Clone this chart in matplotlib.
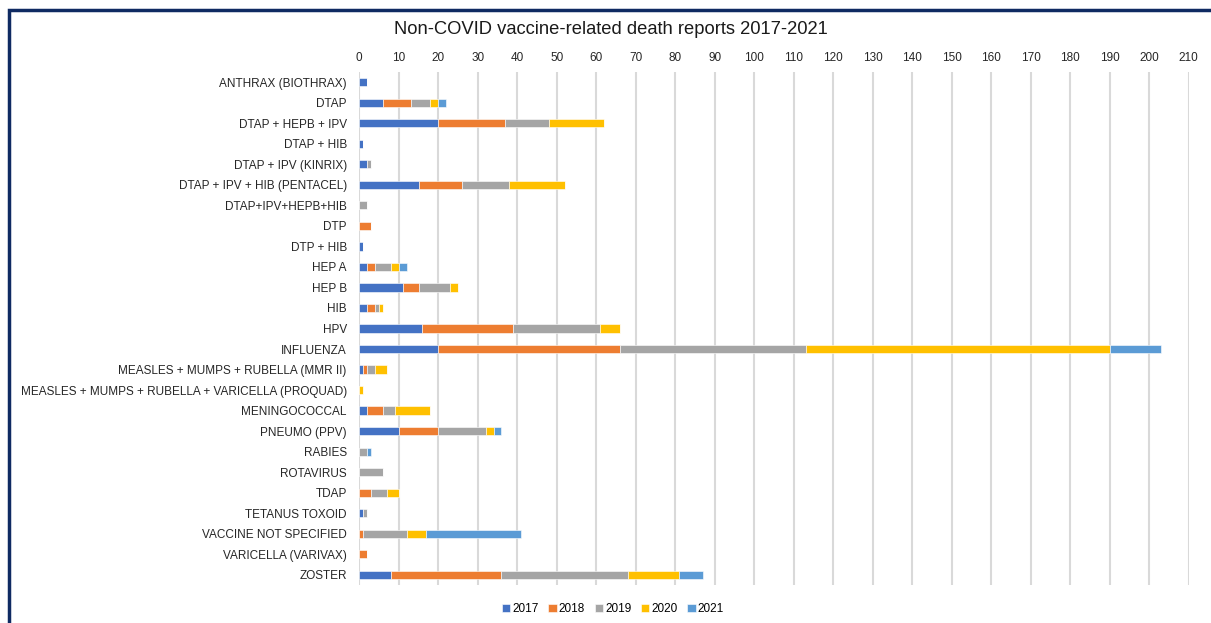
import matplotlib
matplotlib.use("Agg")
import matplotlib.pyplot as plt
from matplotlib.patches import Rectangle
import numpy as np

plt.rcParams['font.family'] = ['Liberation Sans', 'DejaVu Sans']

categories = [
    "ANTHRAX (BIOTHRAX)", "DTAP", "DTAP + HEPB + IPV", "DTAP + HIB",
    "DTAP + IPV (KINRIX)", "DTAP + IPV + HIB (PENTACEL)", "DTAP+IPV+HEPB+HIB",
    "DTP", "DTP + HIB", "HEP A", "HEP B", "HIB", "HPV", "INFLUENZA",
    "MEASLES + MUMPS + RUBELLA (MMR II)",
    "MEASLES + MUMPS + RUBELLA + VARICELLA (PROQUAD)",
    "MENINGOCOCCAL", "PNEUMO (PPV)", "RABIES", "ROTAVIRUS", "TDAP",
    "TETANUS TOXOID", "VACCINE NOT SPECIFIED", "VARICELLA (VARIVAX)", "ZOSTER",
]
years = ["2017", "2018", "2019", "2020", "2021"]

v2017 = [2, 6, 20, 1, 2, 15, 0, 0, 1, 2, 11, 2, 16, 20, 1, 0, 2, 10, 0, 0, 0, 1, 0, 0, 8]
v2018 = [0, 7, 17, 0, 0, 11, 0, 3, 0, 2, 4, 2, 23, 46, 1, 0, 4, 10, 0, 0, 3, 0, 1, 2, 28]
v2019 = [0, 5, 11, 0, 1, 12, 2, 0, 0, 4, 8, 1, 22, 47, 2, 0, 3, 12, 2, 6, 4, 1, 11, 0, 32]
v2020 = [0, 2, 14, 0, 0, 14, 0, 0, 0, 2, 2, 1, 5, 77, 3, 1, 9, 2, 0, 0, 3, 0, 5, 0, 13]
v2021 = [0, 2, 0, 0, 0, 0, 0, 0, 0, 2, 0, 0, 0, 13, 0, 0, 0, 2, 1, 0, 0, 0, 24, 0, 6]

series = [v2017, v2018, v2019, v2020, v2021]
colors = ["#4472C4", "#ED7D31", "#A5A5A5", "#FFC000", "#5B9BD5"]

W, H = 1211, 623
fig = plt.figure(figsize=(W / 100, H / 100), dpi=100)
ax = fig.add_axes([359.3 / W, 1 - 585 / H, (1188.6 - 359.3) / W, (585 - 72) / H])

y = np.arange(len(categories))
left = np.zeros(len(categories))
for vals, col, lab in zip(series, colors, years):
    vals = np.array(vals, dtype=float)
    ax.barh(y, vals, left=left, height=0.40, color=col, label=lab,
            edgecolor='white', linewidth=0.4, zorder=3)
    left += vals

ax.set_ylim(len(categories) - 0.5, -0.5)
ax.set_xlim(0, 210)
ax.set_xticks(np.arange(0, 211, 10))
ax.set_yticks(y)
ax.set_yticklabels(categories, fontsize=8.5, color='#262626')
ax.xaxis.tick_top()
ax.tick_params(axis='x', labelsize=8.5, colors='#262626', length=0, pad=6)
ax.tick_params(axis='y', length=0, pad=9)
ax.grid(axis='x', color='#D9D9D9', linewidth=1.5, zorder=0)
for s in ax.spines.values():
    s.set_visible(False)

fig.text(611 / W, 1 - 30 / H, "Non-COVID vaccine-related death reports 2017-2021",
         ha='center', va='center', fontsize=13.2, color='#1a1a1a')

handles, labels = ax.get_legend_handles_labels()
fig.legend(handles, labels, loc='center', bbox_to_anchor=(613 / W, 1 - 609 / H),
           ncol=5, frameon=False, fontsize=8.5, handlelength=0.7, handleheight=0.7,
           handletextpad=0.2, columnspacing=0.8)

# outer dark border (extends past right/bottom edges)
fig.patches.append(Rectangle((9 / W, -0.1), 1.2, 1 - 10 / H + 0.1,
                             transform=fig.transFigure, fill=False,
                             edgecolor='#0F2A62', linewidth=2.5, zorder=10))

fig.savefig("out.png", dpi=100)
